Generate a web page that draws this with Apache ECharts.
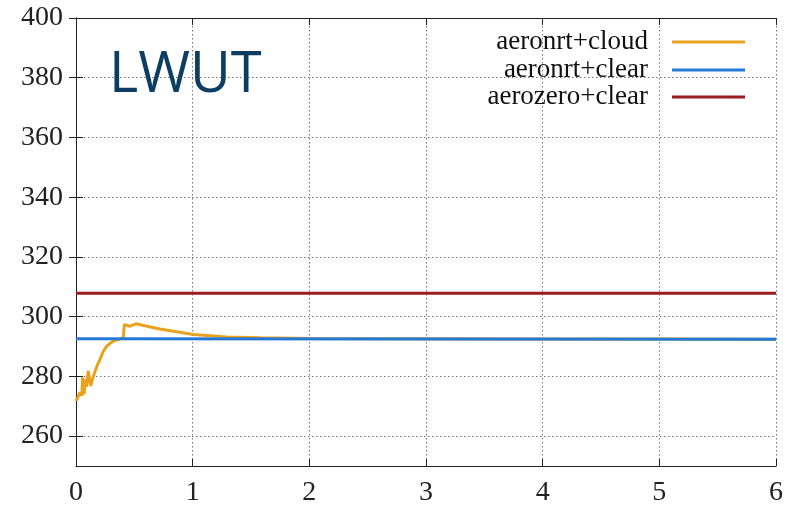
<!DOCTYPE html>
<html><head><meta charset="utf-8">
<script src="https://cdn.jsdelivr.net/npm/echarts@6/dist/echarts.min.js"></script>
<style>html,body{margin:0;padding:0;background:#fff}#c{width:789px;height:507px}</style>
</head><body><div id="c"></div>
<script>
var seriesNames = ['aeronrt+cloud', 'aeronrt+clear', 'aerozero+clear'];
var cloudX = [0, 0.01, 0.034, 0.05, 0.057, 0.069, 0.08, 0.09, 0.105, 0.126, 0.148, 0.18, 0.206, 0.235, 0.263, 0.29, 0.32, 0.36, 0.405, 0.414, 0.44, 0.463, 0.514, 0.6, 0.72, 0.85, 1.005, 1.15, 1.29, 1.58, 2, 3, 4, 5, 6];
var cloudY = [271.8, 272.5, 274.7, 273.5, 279.7, 274.0, 279.0, 276.5, 281.8, 276.8, 280.0, 283.5, 285.7, 288.5, 290.1, 291.0, 291.8, 292.3, 292.9, 297.3, 297.1, 296.8, 297.6, 296.9, 295.9, 295.0, 294.0, 293.6, 293.2, 292.9, 292.7, 292.6, 292.5, 292.5, 292.4];
var clearX = [0, 6];
var clearY = [292.6, 292.4];
var zeroX = [0, 6];
var zeroY = [307.8, 307.8];
var xTicks = [0, 1, 2, 3, 4, 5, 6];
var yTicks = [260, 280, 300, 320, 340, 360, 380, 400];
var colors = ['#E8A21E', '#2479D6', '#9A1C1E'];

function pairs(xs, ys) { return xs.map(function (x, i) { return [x, ys[i]]; }); }

var chart = echarts.init(document.getElementById('c'), null, {renderer: 'canvas'});
var serif = 'Liberation Serif';
var axisLineStyle = {color: '#222', width: 1};
var gridLine = {show: true, lineStyle: {color: '#777', width: 1, type: [1.5, 2.5]}};
var legendTops = [28, 56, 83];
var option = {
  animation: false,
  title: {
    text: 'LWUT', left: 104, top: 43,
    textStyle: {fontFamily: 'Open Sans', fontWeight: 'normal', fontSize: 56, color: '#0E3D63'}
  },
  legend: seriesNames.map(function (n, i) {
    return {
      data: [n], right: 44, top: legendTops[i], orient: 'vertical', align: 'right',
      padding: 0, itemWidth: 73, itemHeight: 3, icon: 'rect',
      textStyle: {fontFamily: serif, fontSize: 27, color: '#111', lineHeight: 28, padding: [0, 19, 0, 0]}
    };
  }),
  grid: {left: 76, right: 13, top: 18, bottom: 40, containLabel: false},
  xAxis: [{
    type: 'value', min: xTicks[0], max: xTicks[xTicks.length - 1], interval: 1,
    axisLine: {show: true, lineStyle: axisLineStyle},
    axisTick: {show: true, inside: true, length: 7, lineStyle: axisLineStyle},
    axisLabel: {fontFamily: serif, fontSize: 28, color: '#222', margin: 13},
    splitLine: gridLine
  }, {
    type: 'value', position: 'top', min: xTicks[0], max: xTicks[xTicks.length - 1], interval: 1,
    axisLine: {show: true, lineStyle: axisLineStyle},
    axisTick: {show: true, inside: true, length: 7, lineStyle: axisLineStyle},
    axisLabel: {show: false}, splitLine: {show: false}
  }],
  yAxis: [{
    type: 'value', min: 250, max: yTicks[yTicks.length - 1],
    axisLine: {show: true, lineStyle: axisLineStyle},
    axisTick: {show: true, inside: true, length: 7, lineStyle: axisLineStyle, customValues: yTicks},
    axisLabel: {fontFamily: serif, fontSize: 28, color: '#222', margin: 13, customValues: yTicks},
    splitLine: gridLine
  }, {
    type: 'value', position: 'right', min: 250, max: yTicks[yTicks.length - 1],
    axisLine: {show: true, lineStyle: axisLineStyle},
    axisTick: {show: true, inside: true, length: 7, lineStyle: axisLineStyle, customValues: yTicks},
    axisLabel: {show: false}, splitLine: {show: false}
  }],
  series: [
    {name: seriesNames[0], type: 'line', data: pairs(cloudX, cloudY), showSymbol: false, symbol: 'none',
      lineStyle: {color: colors[0], width: 3}, itemStyle: {color: colors[0]}},
    {name: seriesNames[1], type: 'line', data: pairs(clearX, clearY), showSymbol: false, symbol: 'none',
      lineStyle: {color: colors[1], width: 3}, itemStyle: {color: colors[1]}},
    {name: seriesNames[2], type: 'line', data: pairs(zeroX, zeroY), showSymbol: false, symbol: 'none',
      lineStyle: {color: colors[2], width: 3}, itemStyle: {color: colors[2]}}
  ]
};
chart.setOption(option);
</script></body></html>
